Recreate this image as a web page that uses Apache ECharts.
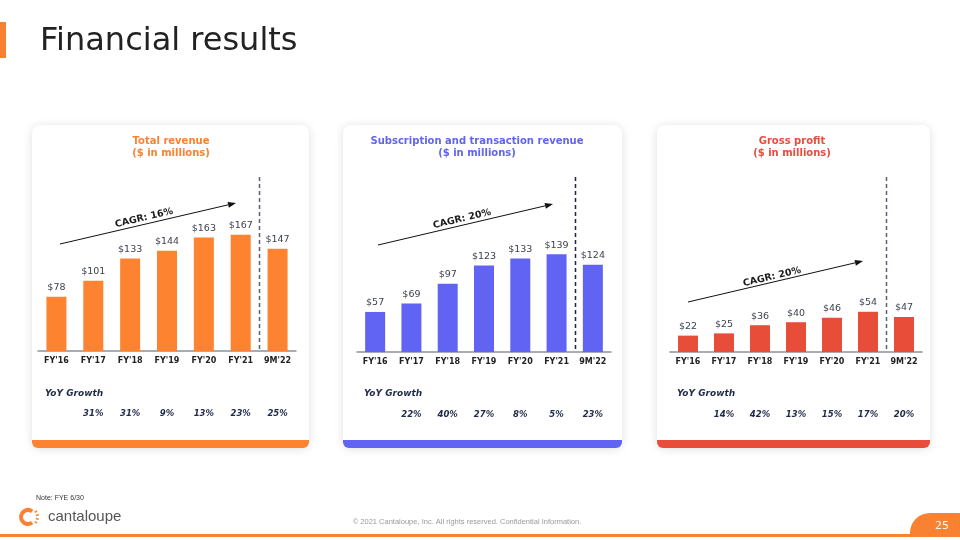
<!DOCTYPE html>
<html>
<head>
<meta charset="utf-8">
<script src="https://cdn.jsdelivr.net/npm/echarts@6/dist/echarts.min.js"></script>
<style>html,body{margin:0;padding:0;background:#fff}#c{width:960px;height:540px}</style>
</head>
<body>
<div id="c"></div>
<script>
// ---- data ----
const categories = ["FY'16", "FY'17", "FY'18", "FY'19", "FY'20", "FY'21", "9M'22"];
const totalRevenue = [78, 101, 133, 144, 163, 167, 147];
const subscriptionRevenue = [57, 69, 97, 123, 133, 139, 124];
const grossProfit = [22, 25, 36, 40, 46, 54, 47];
const totalGrowth = [null, 31, 31, 9, 13, 23, 25];
const subscriptionGrowth = [null, 22, 40, 27, 8, 5, 23];
const grossGrowth = [null, 14, 42, 13, 15, 17, 20];
const cagrLabels = ['CAGR: 16%', 'CAGR: 20%', 'CAGR: 20%'];
const titles = [['Total revenue', '($ in millions)'], ['Subscription and transaction revenue', '($ in millions)'], ['Gross profit', '($ in millions)']];

const FONT = 'DejaVu Sans';
const NAVY = '#1f2a48';

const panels = [
  { values: totalRevenue, growth: totalGrowth, color: '#FE8330', titleColor: '#F98232', dash: '#5b6274',
    card: [32, 125, 277], grid: { left: 38, width: 258, top: 177, height: 174 }, max: 250,
    titleX: 171, yoyX: 45, arrow: [60, 244, 236, 203], cagr: [144, 218] },
  { values: subscriptionRevenue, growth: subscriptionGrowth, color: '#6164F2', titleColor: '#6164F2', dash: '#1f2444',
    card: [343, 125, 279], grid: { left: 357, width: 254, top: 177, height: 175 }, max: 249,
    titleX: 477, yoyX: 364, arrow: [378, 245, 553, 204], cagr: [462, 219] },
  { values: grossProfit, growth: grossGrowth, color: '#E84D3A', titleColor: '#E74C3C', dash: '#5b6274',
    card: [657, 125, 273], grid: { left: 670, width: 252, top: 177, height: 175 }, max: 235,
    titleX: 792, yoyX: 677, arrow: [688, 302, 863, 261], cagr: [772, 277] }
];

const chart = echarts.init(document.getElementById('c'), null, { renderer: 'canvas' });

const grids = [], xAxes = [], yAxes = [], series = [];
panels.forEach((p, i) => {
  grids.push(Object.assign({ containLabel: false }, p.grid));
  xAxes.push({
    type: 'category', gridIndex: i, data: categories,
    axisLine: { lineStyle: { color: '#8c919b', width: 1.5 } },
    axisTick: { show: false },
    axisLabel: { fontFamily: FONT, fontWeight: 'bold', fontSize: 8, color: '#222', margin: 6, interval: 0 }
  });
  xAxes.push({
    type: 'category', gridIndex: i, position: 'bottom', offset: 58,
    data: p.growth.map(v => v == null ? '' : v + '%'),
    axisLine: { show: false }, axisTick: { show: false },
    axisLabel: { fontFamily: FONT, fontWeight: 'bold', fontStyle: 'italic', fontSize: 8.5, color: NAVY, margin: 0, interval: 0 }
  });
  yAxes.push({ type: 'value', gridIndex: i, min: 0, max: p.max, show: false, splitLine: { show: false } });
  series.push({
    type: 'bar', xAxisIndex: 2 * i, yAxisIndex: i, data: p.values, barWidth: 20,
    itemStyle: { color: p.color },
    label: { show: true, position: 'top', distance: 4, formatter: '${c}', fontFamily: FONT, fontSize: 9.5, color: '#3d4250' }
  });
});

chart.setOption({
  animation: false,
  backgroundColor: '#ffffff',
  grid: grids, xAxis: xAxes, yAxis: yAxes, series: series
});

// ---- decorations ----
const g = [];
panels.forEach((p, i) => {
  const [cx, cy, cw] = p.card;
  g.push({ type: 'rect', z: -10, shape: { x: cx, y: cy, width: cw, height: 323, r: 8 },
    style: { fill: '#fff', shadowBlur: 10, shadowColor: 'rgba(0,0,0,0.13)', shadowOffsetX: 0, shadowOffsetY: 1 } });
  g.push({ type: 'rect', z: -9, shape: { x: cx, y: 440, width: cw, height: 8, r: [0, 0, 6, 6] }, style: { fill: p.color } });
  g.push({ type: 'text', x: p.titleX, y: 141, style: { text: titles[i][0], font: 'bold 10px ' + FONT, fill: p.titleColor, textAlign: 'center', textVerticalAlign: 'middle' } });
  g.push({ type: 'text', x: p.titleX, y: 153, style: { text: titles[i][1], font: 'bold 10px ' + FONT, fill: p.titleColor, textAlign: 'center', textVerticalAlign: 'middle' } });
  g.push({ type: 'text', x: p.yoyX, y: 394, style: { text: 'YoY Growth', font: 'italic bold 9px ' + FONT, fill: NAVY, textAlign: 'left', textVerticalAlign: 'middle' } });
  const [x1, y1, x2, y2] = p.arrow;
  const ang = Math.atan2(y2 - y1, x2 - x1);
  const L = 8, W = 3;
  const bx = x2 - L * Math.cos(ang), by = y2 - L * Math.sin(ang);
  g.push({ type: 'line', shape: { x1: x1, y1: y1, x2: bx, y2: by }, style: { stroke: '#111', lineWidth: 1 } });
  g.push({ type: 'polygon', shape: { points: [[x2, y2], [bx - W * Math.sin(ang), by + W * Math.cos(ang)], [bx + W * Math.sin(ang), by - W * Math.cos(ang)]] }, style: { fill: '#111' } });
  g.push({ type: 'text', x: p.cagr[0], y: p.cagr[1], rotation: -ang,
    style: { text: cagrLabels[i], font: 'bold 9.5px ' + FONT, fill: '#1a1a1a', textAlign: 'center', textVerticalAlign: 'middle' } });
  const xa = chart.convertToPixel({ xAxisIndex: 2 * i }, categories[5]);
  const xb = chart.convertToPixel({ xAxisIndex: 2 * i }, categories[6]);
  const y0 = chart.convertToPixel({ yAxisIndex: i }, 0);
  const xm = Math.round((xa + xb) / 2) + 0.5;
  g.push({ type: 'line', z: 5, shape: { x1: xm, y1: p.grid.top, x2: xm, y2: y0 - 1 }, style: { stroke: p.dash, lineWidth: 1.5, lineDash: [4, 3] } });
});

g.push({ type: 'rect', shape: { x: 0, y: 22, width: 6, height: 36 }, style: { fill: '#F98232' } });
g.push({ type: 'text', x: 40, y: 42, style: { text: 'Financial results', font: '32px ' + FONT, fill: '#222', textVerticalAlign: 'middle' } });

g.push({ type: 'text', x: 36, y: 498, style: { text: 'Note: FYE 6/30', font: '7px "Liberation Sans Narrow", "Liberation Sans"', fill: '#333', textVerticalAlign: 'middle' } });
g.push({ type: 'arc', shape: { cx: 28, cy: 517, r: 7, startAngle: Math.PI * 0.3, endAngle: Math.PI * 1.7, clockwise: true }, style: { stroke: '#F98232', lineWidth: 4, fill: null } });
[-0.6, -0.2, 0.2, 0.6].forEach(a => {
  g.push({ type: 'line', shape: { x1: 28 + 8 * Math.cos(a), y1: 517 + 8 * Math.sin(a), x2: 28 + 11 * Math.cos(a), y2: 517 + 11 * Math.sin(a) }, style: { stroke: '#F98232', lineWidth: 1.5 } });
});
g.push({ type: 'text', x: 48, y: 517, style: { text: 'cantaloupe', font: '15px "Liberation Sans"', fill: '#555', textVerticalAlign: 'middle' } });
g.push({ type: 'text', x: 467, y: 522, style: { text: '\u00a9 2021 Cantaloupe, Inc. All rights reserved. Confidential Information.', font: '7.5px "Liberation Sans Narrow", "Liberation Sans"', fill: '#9a9a9a', textAlign: 'center', textVerticalAlign: 'middle' } });
g.push({ type: 'rect', shape: { x: 0, y: 534, width: 960, height: 3 }, style: { fill: '#F98232' } });
g.push({ type: 'rect', shape: { x: 910, y: 513, width: 50, height: 24, r: [20, 0, 0, 0] }, style: { fill: '#F98232' } });
g.push({ type: 'text', x: 942, y: 526, style: { text: '25', font: '11px ' + FONT, fill: '#fff', textAlign: 'center', textVerticalAlign: 'middle' } });

chart.setOption({ graphic: g });
</script>
</body>
</html>
